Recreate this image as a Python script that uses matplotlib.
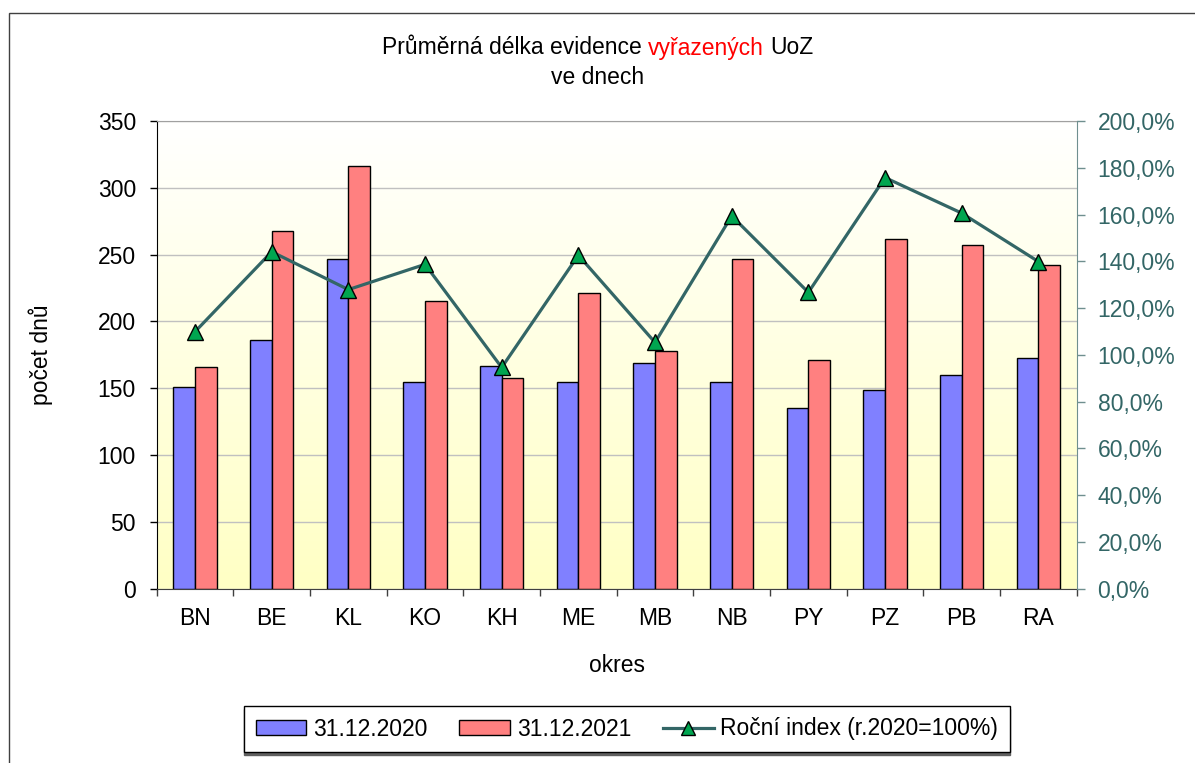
import numpy as np
import matplotlib
matplotlib.use("Agg")
import matplotlib.pyplot as plt
from matplotlib.colors import LinearSegmentedColormap
from matplotlib.patches import Rectangle
from matplotlib.ticker import FuncFormatter, MultipleLocator

plt.rcParams['font.family'] = ['Liberation Sans', 'DejaVu Sans']

# data
okresy = ['BN', 'BE', 'KL', 'KO', 'KH', 'ME', 'MB', 'NB', 'PY', 'PZ', 'PB', 'RA']
dny_2020 = [151, 186, 247, 155, 167, 155, 169, 155, 135, 149, 160, 173]
dny_2021 = [166, 268, 316, 215, 158, 221, 178, 247, 171, 262, 257, 242]
index_pct = [109.9, 144.1, 127.9, 138.7, 94.6, 142.6, 105.3, 159.4, 126.7, 175.8, 160.6, 139.9]

FS = 16.5
W, H = 1195, 763
fig = plt.figure(figsize=(W / 100, H / 100), dpi=100)
fig.patch.set_facecolor('white')

# outer chart border (only left and top edges visible)
fig.add_artist(Rectangle((9 / W, -0.2), 2, 1.2 - 13 / H, transform=fig.transFigure,
                         fill=False, edgecolor='#404040', linewidth=1))

ax = fig.add_axes([156.7 / W, 1 - 588.7 / H, 920 / W, 467.7 / H])
x = np.arange(len(okresy))
bw = 0.283

# gradient background: white at top -> light yellow at bottom
grad = np.linspace(0, 1, 256).reshape(-1, 1)
cmap = LinearSegmentedColormap.from_list('bg', ['#FFFFFF', '#FFFFC4'])
ax.imshow(grad, extent=[-0.5, 11.5, 0, 350], aspect='auto', cmap=cmap,
          origin='upper', zorder=0)

ax.set_xlim(-0.5, 11.5)
ax.set_ylim(0, 350)
ax.yaxis.set_major_locator(MultipleLocator(50))
ax.grid(axis='y', color='#C0C0C0', linewidth=1, zorder=1)
ax.set_axisbelow(True)

ax.bar(x - bw / 2, dny_2020, bw, color='#8080FF', edgecolor='black', linewidth=1,
       zorder=2, label='31.12.2020')
ax.bar(x + bw / 2, dny_2021, bw, color='#FF8080', edgecolor='black', linewidth=1,
       zorder=2, label='31.12.2021')

ax.set_xticks(x)
ax.set_xticklabels(okresy)
ax.set_xticks(np.arange(-0.5, 12, 1), minor=True)
ax.tick_params(axis='x', which='major', length=0, pad=13.5, labelsize=FS)
ax.tick_params(axis='x', which='minor', length=5, width=1, direction='out', color='#404040')
ax.tick_params(axis='y', length=5, width=1, direction='out', pad=10, labelsize=FS)

ax.spines['top'].set_color('#A0A0A0')
ax.spines['right'].set_visible(False)
ax.spines['left'].set_color('black')
ax.spines['bottom'].set_color('#404040')

# yearly index on the right axis
ax2 = ax.twinx()
ax2.set_ylim(0, 200)
ax2.set_xlim(-0.5, 11.5)
ax2.plot(x, index_pct, color='#336666', linewidth=2.3, marker='^', markersize=12,
         markerfacecolor='#00A550', markeredgecolor='black', markeredgewidth=1,
         label='Roční index (r.2020=100%)', zorder=5)
ax2.yaxis.set_major_locator(MultipleLocator(20))
ax2.yaxis.set_major_formatter(FuncFormatter(lambda v, p: f'{v:.1f}'.replace('.', ',') + '%'))
ax2.tick_params(axis='y', length=6, width=1, direction='out', pad=9, labelsize=FS,
                colors='#336666')
ax2.tick_params(axis='y', color='#6F8F8F')
for s in ['top', 'left', 'bottom']:
    ax2.spines[s].set_visible(False)
ax2.spines['right'].set_color('#6F8F8F')

# axis titles
fig.text(41 / W, 1 - 354.8 / H, 'počet dnů', rotation=90, ha='center', va='center',
         fontsize=FS)
fig.text(616.7 / W, 1 - 666 / H, 'okres', ha='center', va='center', fontsize=FS)

# two-line title with the red word
fig.canvas.draw()
r = fig.canvas.get_renderer()


def width_px(s):
    t = fig.text(0, 0, s, fontsize=FS)
    w = t.get_window_extent(r).width
    t.remove()
    return w


full = 'Průměrná délka evidence vyřazených UoZ'
cx = 598 / W
ty = 1 - 48 / H
wf = width_px(full)
left = cx * W - wf / 2
pre = 'Průměrná délka evidence'
red_off = width_px(pre + ' v') - width_px('v')
uoz_off = wf - width_px('UoZ')
fig.text(left / W, ty, pre, fontsize=FS, ha='left', va='center')
fig.text((left + red_off) / W, ty, 'vyřazených', fontsize=FS, ha='left', va='center',
         color='#FF0000')
fig.text((left + uoz_off) / W, ty, 'UoZ', fontsize=FS, ha='left', va='center')
fig.text(cx, 1 - 77 / H, 've dnech', fontsize=FS, ha='center', va='center')

# legend
h1, l1 = ax.get_legend_handles_labels()
h2, l2 = ax2.get_legend_handles_labels()
leg = fig.legend(h1 + h2, l1 + l2, loc='center', ncol=3,
                 bbox_to_anchor=(627 / W, 1 - 729 / H), fontsize=FS,
                 frameon=True, fancybox=False,
                 shadow={'color': '#606060', 'alpha': 1, 'ox': 0, 'oy': -2},
                 handlelength=2.2, handleheight=0.6, handletextpad=0.3,
                 columnspacing=1.4, borderpad=0.5, borderaxespad=0)
leg.get_frame().set_edgecolor('black')
leg.get_frame().set_linewidth(1)
leg.legend_handles[2].set_markersize(10)

fig.savefig('out.png', dpi=100)
